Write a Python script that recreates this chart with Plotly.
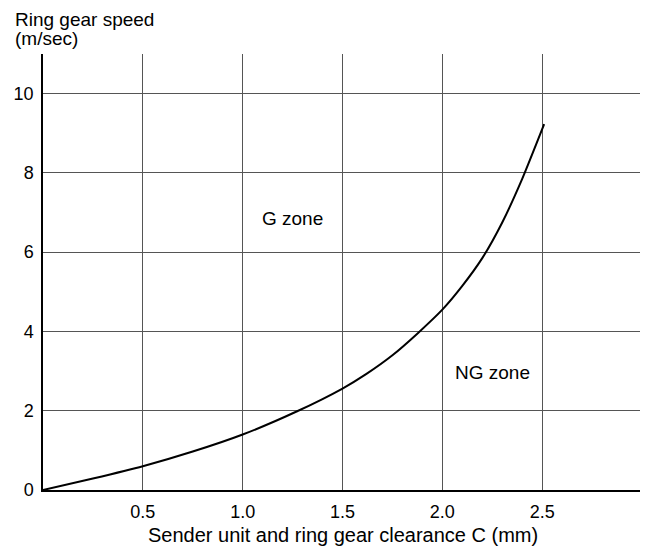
import plotly.graph_objects as go

# clearance C (mm) vs ring gear speed (m/sec)
clearance = [0.0, 0.25, 0.5, 0.75, 1.0, 1.27, 1.5, 1.62, 1.75, 1.88, 2.0, 2.1, 2.2, 2.3, 2.4, 2.51]
speed = [0.0, 0.29, 0.6, 0.97, 1.4, 1.98, 2.56, 2.93, 3.4, 3.97, 4.55, 5.15, 5.85, 6.75, 7.85, 9.23]

x_ticks = [0.5, 1.0, 1.5, 2.0, 2.5]
x_labels = ['0.5', '1.0', '1.5', '2.0', '2.5']
y_ticks = [0, 2, 4, 6, 8, 10]

font_family = 'Liberation Sans, Arial, sans-serif'

# page body has an 8px margin, so the figure is a bit smaller than the window
fig = go.Figure()
fig.add_trace(go.Scatter(x=clearance, y=speed, mode='lines',
                         line=dict(color='black', width=2, shape='spline', smoothing=0.6),
                         showlegend=False, hoverinfo='skip'))

fig.add_annotation(x=1.25, y=6.85, text='G zone', showarrow=False,
                   font=dict(size=19, color='black'))
fig.add_annotation(x=2.25, y=2.97, text='NG zone', showarrow=False,
                   font=dict(size=19, color='black'))
# y-axis title, two lines at top left
fig.add_annotation(xref='paper', yref='paper', x=-0.05, y=1.08, xanchor='left', yanchor='middle',
                   text='Ring gear speed', showarrow=False,
                   font=dict(size=19, color='black'))
fig.add_annotation(xref='paper', yref='paper', x=-0.05, y=1.035, xanchor='left', yanchor='middle',
                   text='(m/sec)', showarrow=False,
                   font=dict(size=19, color='black'))
fig.add_annotation(xref='paper', yref='paper', x=0.5, y=-0.103, xanchor='center', yanchor='middle',
                   text='Sender unit and ring gear clearance C (mm)', showarrow=False,
                   font=dict(size=20, color='black'))

fig.update_layout(
    width=640, height=542,
    margin=dict(l=35, r=6, t=46, b=60),
    paper_bgcolor='white', plot_bgcolor='white',
    font=dict(family=font_family, size=18, color='black'),
    xaxis=dict(range=[0, 3.0], tickvals=x_ticks, ticktext=x_labels,
               showgrid=True, gridcolor='#555555', gridwidth=1,
               showline=True, linecolor='black', linewidth=1.5, mirror=False,
               zeroline=False, ticks='', ticklabelstandoff=5, automargin=False),
    yaxis=dict(range=[0, 11], tickvals=y_ticks,
               showgrid=True, gridcolor='#555555', gridwidth=1,
               showline=True, linecolor='black', linewidth=1.5, mirror=True,
               zeroline=False, ticks='', ticklabelstandoff=4, automargin=False),
)

fig.write_html("out.html")
